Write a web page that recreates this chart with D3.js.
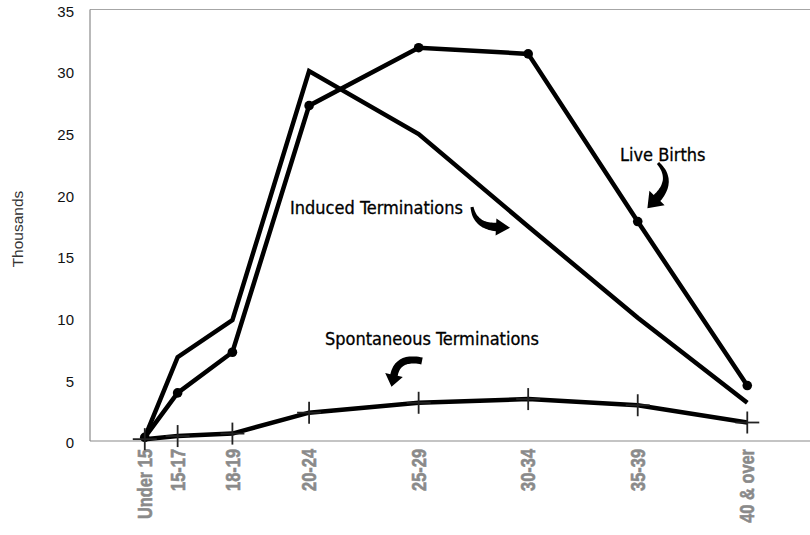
<!DOCTYPE html>
<html>
<head>
<meta charset="utf-8">
<script src="https://cdn.jsdelivr.net/npm/d3@7"></script>
<style>
  html, body { margin: 0; padding: 0; background: #fff; }
  svg { display: block; }
</style>
</head>
<body>
<svg id="chart" width="810" height="535"></svg>
<script>
// ---- data ----
const categories = ["Under 15", "15-17", "18-19", "20-24", "25-29", "30-34", "35-39", "40 & over"];
const ageMidpoints = [14.5, 16, 18.5, 22, 27, 32, 37, 42];
const liveBirths = [0.3, 3.9, 7.2, 27.2, 31.9, 31.4, 17.8, 4.5];
const inducedTerminations = [0.3, 6.8, 9.8, 30.0, 24.9, 17.4, 10.0, 3.1];
const spontaneousTerminations = [0.15, 0.4, 0.6, 2.3, 3.1, 3.4, 2.9, 1.5];
const yTickValues = [0, 5, 10, 15, 20, 25, 30, 35];
const annotationLabels = ["Live Births", "Induced Terminations", "Spontaneous Terminations"];
const yAxisTitle = "Thousands";

// ---- layout ----
const svg = d3.select("#chart");
const x = d3.scaleLinear().domain([12, 45]).range([90, 813]);
const y = d3.scaleLinear().domain([0, 35]).range([441, 9.5]);

// plot frame (top border + left axis + bottom axis)
svg.append("line").attr("x1", x(12)).attr("x2", 810).attr("y1", y(35)).attr("y2", y(35))
  .attr("stroke", "#a6a6a6").attr("stroke-width", 1.2);
svg.append("line").attr("x1", x(12)).attr("x2", x(12)).attr("y1", y(35)).attr("y2", y(0))
  .attr("stroke", "#8a8a8a").attr("stroke-width", 1.2);
svg.append("line").attr("x1", x(12)).attr("x2", 810).attr("y1", y(0)).attr("y2", y(0))
  .attr("stroke", "#8a8a8a").attr("stroke-width", 1.2);

// y tick labels
const yAxis = d3.axisLeft(y).tickValues(yTickValues).tickSize(0).tickPadding(16).tickFormat(d3.format("d"));
const gy = svg.append("g").attr("transform", `translate(${x(12)},2)`).call(yAxis);
gy.select(".domain").remove();
gy.selectAll("text").attr("font-family", "'Liberation Sans', Arial, sans-serif")
  .attr("font-size", 15).attr("fill", "#111");

// y axis title
svg.append("text").attr("transform", `translate(23,229) rotate(-90)`)
  .attr("text-anchor", "middle")
  .attr("font-family", "'Liberation Sans', Arial, sans-serif").attr("font-size", 15.5)
  .attr("fill", "#333").text(yAxisTitle);

// x tick labels (rotated, condensed heavy face)
const xLab = svg.append("g");
categories.forEach((c, i) => {
  xLab.append("text")
    .attr("transform", `translate(${x(ageMidpoints[i])},449) rotate(-90) scale(0.82,1)`)
    .attr("text-anchor", "end").attr("dy", "0.36em")
    .attr("font-family", "'Liberation Sans', Arial, sans-serif")
    .attr("font-weight", "bold").attr("font-size", 20)
    .attr("fill", "#8a8a8a").attr("stroke", "#8a8a8a").attr("stroke-width", 0.6)
    .text(c);
});

// series lines
const lineGen = vals => d3.line().x((d, i) => x(ageMidpoints[i])).y(d => y(d))(vals);
const series = [liveBirths, inducedTerminations, spontaneousTerminations];
series.forEach(vals => {
  svg.append("path").attr("d", lineGen(vals)).attr("fill", "none")
    .attr("stroke", "#000").attr("stroke-width", 4.5).attr("stroke-linejoin", "miter");
});

// live births dots
svg.append("g").selectAll("circle").data(liveBirths).join("circle")
  .attr("cx", (d, i) => x(ageMidpoints[i])).attr("cy", d => y(d)).attr("r", 4.8).attr("fill", "#000");

// spontaneous plus markers
const plus = svg.append("g").attr("stroke", "#222").attr("stroke-width", 1.8);
spontaneousTerminations.forEach((d, i) => {
  const cx = x(ageMidpoints[i]), cy = y(d);
  plus.append("line").attr("x1", cx).attr("x2", cx).attr("y1", cy - 11).attr("y2", cy + 11);
  plus.append("line").attr("x1", cx - 12).attr("x2", cx + 12).attr("y1", cy).attr("y2", cy);
});

// annotation labels
const annFont = "'DejaVu Sans Condensed', 'DejaVu Sans', sans-serif";
const annPos = [[620, 160.5], [290, 213.5], [325, 345]];
annotationLabels.forEach((t, i) => {
  svg.append("text").attr("x", annPos[i][0]).attr("y", annPos[i][1])
    .attr("font-family", annFont).attr("font-size", 18).attr("fill", "#000")
    .attr("stroke", "#000").attr("stroke-width", 0.3).text(t);
});

// curved block arrows
function curvedArrow(p0, c, p1, w0, w1, hw, hl) {
  const n = 24, L = [], R = [];
  for (let k = 0; k <= n; k++) {
    const t = k / n, u = 1 - t;
    const px = u * u * p0[0] + 2 * u * t * c[0] + t * t * p1[0];
    const py = u * u * p0[1] + 2 * u * t * c[1] + t * t * p1[1];
    let dx = 2 * u * (c[0] - p0[0]) + 2 * t * (p1[0] - c[0]);
    let dy = 2 * u * (c[1] - p0[1]) + 2 * t * (p1[1] - c[1]);
    const m = Math.hypot(dx, dy) || 1; dx /= m; dy /= m;
    const w = (w0 + (w1 - w0) * t) / 2;
    L.push([px - dy * w, py + dx * w]);
    R.push([px + dy * w, py - dx * w]);
  }
  let dx = p1[0] - c[0], dy = p1[1] - c[1];
  const m = Math.hypot(dx, dy); dx /= m; dy /= m;
  const bl = [p1[0] - dy * hw, p1[1] + dx * hw];
  const br = [p1[0] + dy * hw, p1[1] - dx * hw];
  const tip = [p1[0] + dx * hl, p1[1] + dy * hl];
  const pts = L.concat([bl, tip, br]).concat(R.reverse());
  return "M" + pts.map(p => p[0].toFixed(1) + "," + p[1].toFixed(1)).join("L") + "Z";
}
const arrows = [
  [[658, 163], [674, 180], [657, 198], 3, 9, 10.5, 14],
  [[472, 207], [475, 226], [496, 227], 3, 8.5, 8.5, 14],
  [[422, 361], [398, 356], [394, 375], 7, 7.5, 9, 12]
];
arrows.forEach(a => {
  svg.append("path").attr("d", curvedArrow(...a)).attr("fill", "#000");
});
</script>
</body>
</html>
